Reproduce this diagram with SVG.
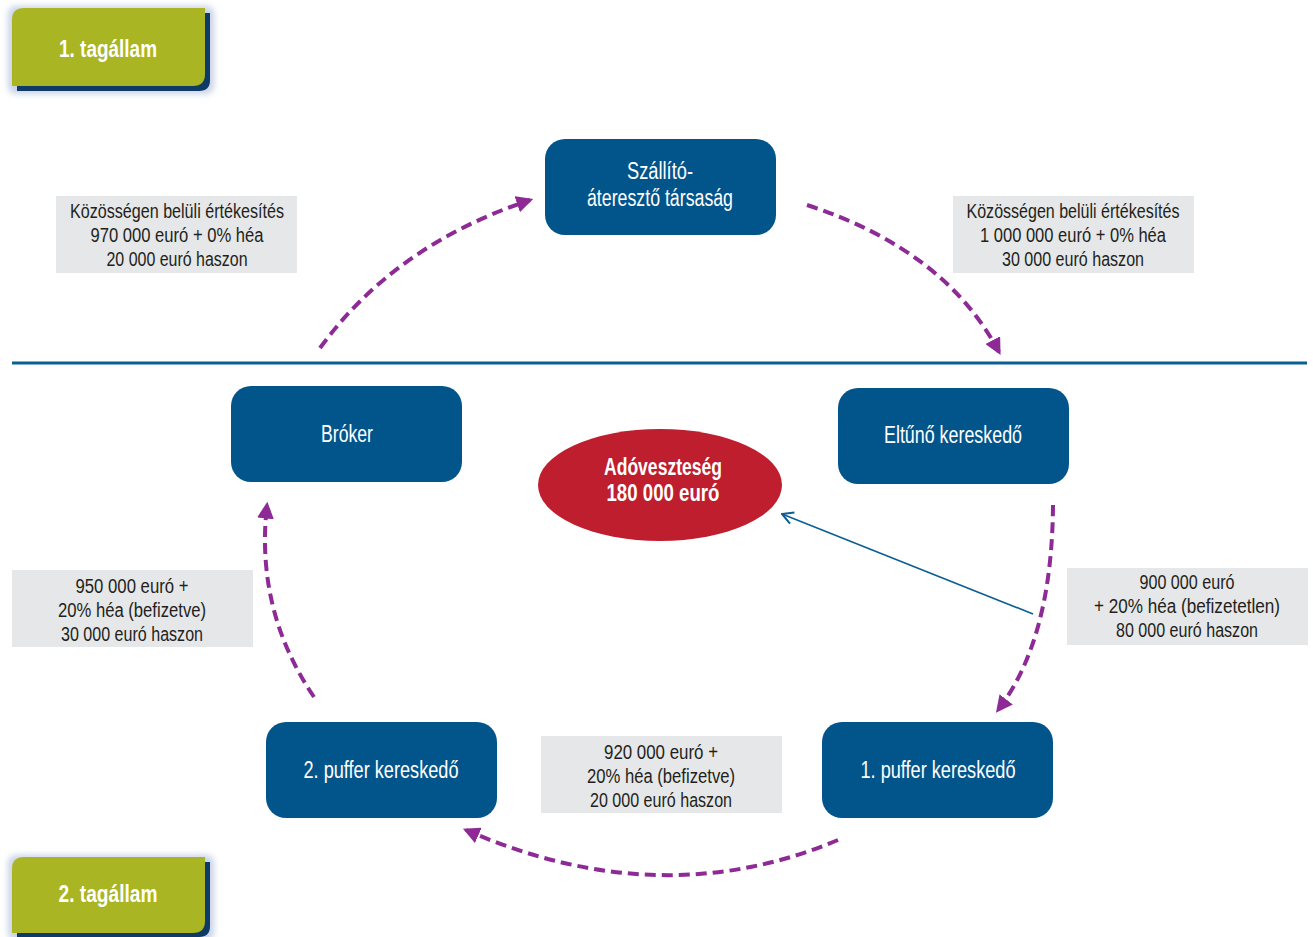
<svg xmlns="http://www.w3.org/2000/svg" width="1313" height="937" viewBox="0 0 1313 937">
<style>
.node{fill:#02558A}
.nt{font-family:"Liberation Sans Narrow","Liberation Sans",Arial,sans-serif;font-size:23px;fill:#FFFFFF;text-anchor:middle}
.gt{font-family:"Liberation Sans Narrow","Liberation Sans",Arial,sans-serif;font-size:23px;font-weight:bold;fill:#FFFFFF;text-anchor:middle}
.lb{fill:#E6E7E8}
.lt{font-family:"Liberation Sans Narrow","Liberation Sans",Arial,sans-serif;font-size:20px;fill:#231F20;text-anchor:middle}
.flow{fill:none;stroke:#8E2A96;stroke-width:4;stroke-dasharray:11 6}
.green{fill:#A9B522}
.shadow{fill:#0D3A66}
</style>
<defs>
<marker id="pa" viewBox="0 0 10 10" refX="8" refY="5" markerWidth="4.2" markerHeight="4.2" markerUnits="strokeWidth" orient="auto">
<path d="M0,0 L10,5 L0,10 Z" fill="#8E2A96"/>
</marker>
<marker id="ba" viewBox="0 0 14 14" refX="13" refY="7" markerWidth="14" markerHeight="14" markerUnits="userSpaceOnUse" orient="auto">
<path d="M2,1 L13,7 L2,13" fill="none" stroke="#0B5E94" stroke-width="2"/>
</marker>
<filter id="glow" x="-20%" y="-30%" width="140%" height="160%">
<feGaussianBlur stdDeviation="3"/>
</filter>
</defs>
<rect width="1313" height="937" fill="#FFFFFF"/>

<g id="state1">
<rect x="8" y="6" width="206" height="88" rx="8" fill="#C9D3E6" filter="url(#glow)"/>
<path class="shadow" d="M17,13 H210 V80 Q210,91 199,91 H17 Z"/>
<path class="green" d="M24,8 H205 V74 Q205,86 193,86 H12 V20 Q12,8 24,8 Z"/>
<text class="gt" x="108" y="57" textLength="98" lengthAdjust="spacingAndGlyphs">1. tagállam</text>
</g>

<g id="state2">
<rect x="8" y="855" width="206" height="86" rx="8" fill="#C9D3E6" filter="url(#glow)"/>
<path class="shadow" d="M17,862 H210 V926 Q210,937 199,937 H17 Z"/>
<path class="green" d="M24,857 H205 V921 Q205,933 193,933 H12 V869 Q12,857 24,857 Z"/>
<text class="gt" x="108" y="902" textLength="99" lengthAdjust="spacingAndGlyphs">2. tagállam</text>
</g>

<line id="border" x1="12" y1="363" x2="1307" y2="363" stroke="#0B5E94" stroke-width="3"/>

<g id="n-szallito">
<rect class="node" x="545" y="139" width="231" height="96" rx="20"/>
<text class="nt" x="660" y="179" textLength="66" lengthAdjust="spacingAndGlyphs">Szállító-</text>
<text class="nt" x="660" y="206" textLength="146" lengthAdjust="spacingAndGlyphs">áteresztő társaság</text>
</g>

<g id="n-broker">
<rect class="node" x="231" y="386" width="231" height="96" rx="20"/>
<text class="nt" x="347" y="442" textLength="52" lengthAdjust="spacingAndGlyphs">Bróker</text>
</g>

<g id="n-eltuno">
<rect class="node" x="838" y="388" width="231" height="96" rx="20"/>
<text class="nt" x="953" y="443" textLength="138" lengthAdjust="spacingAndGlyphs">Eltűnő kereskedő</text>
</g>

<g id="n-puffer2">
<rect class="node" x="266" y="722" width="231" height="96" rx="20"/>
<text class="nt" x="381" y="778" textLength="155" lengthAdjust="spacingAndGlyphs">2. puffer kereskedő</text>
</g>

<g id="n-puffer1">
<rect class="node" x="822" y="722" width="231" height="96" rx="20"/>
<text class="nt" x="938" y="778" textLength="155" lengthAdjust="spacingAndGlyphs">1. puffer kereskedő</text>
</g>

<g id="n-loss">
<ellipse cx="660" cy="485" rx="122" ry="56" fill="#BE1E2D"/>
<text class="gt" x="663" y="475" textLength="118" lengthAdjust="spacingAndGlyphs">Adóveszteség</text>
<text class="gt" x="663" y="501" textLength="113" lengthAdjust="spacingAndGlyphs">180 000 euró</text>
</g>

<g id="l-1">
<rect class="lb" x="56" y="196" width="241" height="77"/>
<text class="lt" x="177" y="218" textLength="214" lengthAdjust="spacingAndGlyphs">Közösségen belüli értékesítés</text>
<text class="lt" x="177" y="242" textLength="173" lengthAdjust="spacingAndGlyphs">970 000 euró + 0% héa</text>
<text class="lt" x="177" y="266" textLength="141" lengthAdjust="spacingAndGlyphs">20 000 euró haszon</text>
</g>

<g id="l-2">
<rect class="lb" x="953" y="196" width="241" height="77"/>
<text class="lt" x="1073" y="218" textLength="213" lengthAdjust="spacingAndGlyphs">Közösségen belüli értékesítés</text>
<text class="lt" x="1073" y="242" textLength="186" lengthAdjust="spacingAndGlyphs">1 000 000 euró + 0% héa</text>
<text class="lt" x="1073" y="266" textLength="142" lengthAdjust="spacingAndGlyphs">30 000 euró haszon</text>
</g>

<g id="l-3">
<rect class="lb" x="12" y="570" width="241" height="77"/>
<text class="lt" x="132" y="593" textLength="113" lengthAdjust="spacingAndGlyphs">950 000 euró +</text>
<text class="lt" x="132" y="617" textLength="148" lengthAdjust="spacingAndGlyphs">20% héa (befizetve)</text>
<text class="lt" x="132" y="641" textLength="142" lengthAdjust="spacingAndGlyphs">30 000 euró haszon</text>
</g>

<g id="l-4">
<rect class="lb" x="541" y="736" width="241" height="77"/>
<text class="lt" x="661" y="759" textLength="114" lengthAdjust="spacingAndGlyphs">920 000 euró +</text>
<text class="lt" x="661" y="783" textLength="148" lengthAdjust="spacingAndGlyphs">20% héa (befizetve)</text>
<text class="lt" x="661" y="807" textLength="142" lengthAdjust="spacingAndGlyphs">20 000 euró haszon</text>
</g>

<g id="l-5">
<rect class="lb" x="1067" y="568" width="241" height="77"/>
<text class="lt" x="1187" y="589" textLength="95" lengthAdjust="spacingAndGlyphs">900 000 euró</text>
<text class="lt" x="1187" y="613" textLength="186" lengthAdjust="spacingAndGlyphs">+ 20% héa (befizetetlen)</text>
<text class="lt" x="1187" y="637" textLength="142" lengthAdjust="spacingAndGlyphs">80 000 euró haszon</text>
</g>

<g id="connectors">
<path class="flow" d="M320,348 Q395,245 530,200" marker-end="url(#pa)"/>
<path class="flow" d="M807,205 Q945,250 999,352" marker-end="url(#pa)"/>
<path class="flow" d="M1053,505 Q1052,640 998,710" marker-end="url(#pa)"/>
<path class="flow" d="M838,840 Q660,915 466,830" marker-end="url(#pa)"/>
<path class="flow" d="M314,697 Q255,610 267,505" marker-end="url(#pa)"/>
<line x1="1033" y1="614" x2="782" y2="514" stroke="#0B5E94" stroke-width="1.6" marker-end="url(#ba)"/>
</g>
</svg>
